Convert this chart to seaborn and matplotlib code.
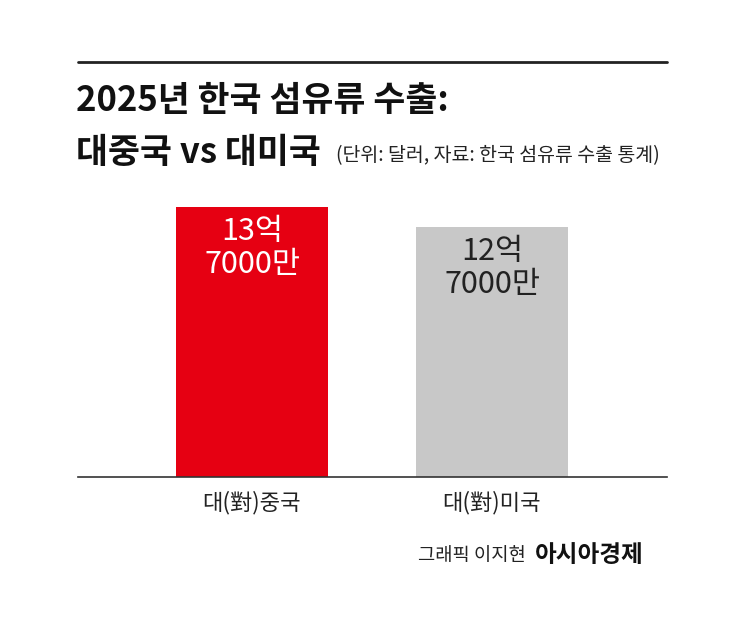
import matplotlib
matplotlib.use("Agg")
import matplotlib.pyplot as plt
import seaborn as sns
import pandas as pd

categories = ["대(對)중국", "대(對)미국"]
values = [13.7, 12.7]
bar_labels = ["13억\n7000만", "12억\n7000만"]
colors = ["#e60012", "#c8c8c8"]
label_colors = ["white", "#222222"]

sns.set_style("white")
plt.rcParams['font.family'] = ['Noto Sans CJK KR', 'DejaVu Sans']

fig = plt.figure(figsize=(7.45, 6.35), dpi=100)
W, H = 745, 635
ax = fig.add_axes([78/W, (H-477)/H, 589/W, 270/H])
df = pd.DataFrame({"cat": categories, "val": values})
sns.barplot(data=df, x="cat", y="val", hue="cat", palette=colors, width=0.633,
            legend=False, ax=ax, saturation=1, linewidth=0)
ax.set_xlim(-0.725, 1.729)
ax.set_ylim(0, 13.7)
for s in ["top", "right", "left"]:
    ax.spines[s].set_visible(False)
ax.spines["bottom"].set_color("#333333")
ax.spines["bottom"].set_linewidth(1.2)
ax.set_yticks([])
ax.set_xlabel(""); ax.set_ylabel("")
ax.tick_params(axis="x", length=0, pad=10, labelsize=16, colors="#222222")
for i, (v, t) in enumerate(zip(values, bar_labels)):
    ax.text(i, v - 0.45, t, ha="center", va="top", fontsize=22, color=label_colors[i],
            linespacing=1.1, fontweight="medium")

fig.add_artist(plt.Line2D([78/W, 667/W], [1-62/H, 1-62/H], color="#222222", lw=2))
fig.text(76/W, 1-100/H, "2025년 한국 섬유류 수출:", fontsize=25, fontweight="bold",
         va="center", color="#111111")
fig.text(76/W, 1-152/H, "대중국 vs 대미국", fontsize=25, fontweight="bold",
         va="center", color="#111111")
fig.text(336/W, 1-156/H, "(단위: 달러, 자료: 한국 섬유류 수출 통계)", fontsize=14,
         va="center", color="#222222")
fig.text(418/W, 1-555/H, "그래픽 이지현", fontsize=13.5, va="center", color="#222222")
fig.text(535/W, 1-555/H, "아시아경제", fontsize=17, fontweight="bold", va="center", color="#111111")
fig.savefig("out.png", dpi=100, facecolor="white")
